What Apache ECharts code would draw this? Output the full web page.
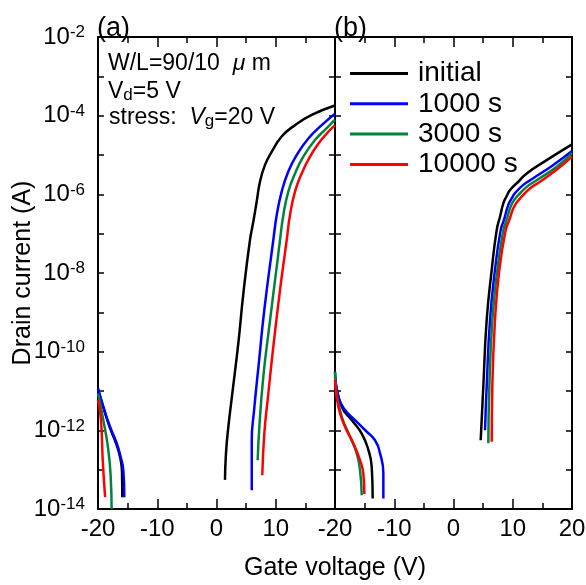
<!DOCTYPE html>
<html>
<head>
<meta charset="utf-8">
<script src="https://cdn.jsdelivr.net/npm/echarts@6/dist/echarts.min.js"></script>
<style>
  html, body { margin: 0; padding: 0; background: #fff; }
  #chart { width: 586px; height: 585px; }
</style>
</head>
<body>
<div id="chart"></div>
<script>
// Transfer curves before and after positive gate-bias stress.
// Each point: [gate voltage (V), drain current (A)].
const curveNames = ['initial', '1000 s', '3000 s', '10000 s'];

// Panel (a): off-state branches (negative gate voltage)
const aInitialOff = [[-20, 1.12e-11], [-19.1, 3.8e-12], [-18.0, 1.17e-12], [-16.9, 4.4e-13], [-16.25, 2.0e-13], [-15.95, 8.9e-14], [-15.9, 2.0e-14]];
const a1000Off    = [[-20, 1.17e-11], [-19.1, 4.0e-12], [-17.97, 1.23e-12], [-16.84, 4.7e-13], [-16.17, 2.1e-13], [-15.73, 9.8e-14], [-15.56, 2.0e-14]];
const a3000Off    = [[-20, 8.7e-12], [-19.1, 1.82e-12], [-18.26, 3.2e-13], [-17.86, 6.6e-14], [-17.7, 1.0e-14]];
const a10000Off   = [[-20, 6.0e-12], [-19.5, 1.82e-12], [-19.2, 1.74e-13], [-18.8, 2.0e-14]];

// Panel (a): on-state branches
const aInitialOn = [[1.43, 5.5e-14], [1.6, 2.6e-13], [2.0, 1.23e-12], [2.67, 8.7e-12], [3.68, 1.62e-10], [4.53, 3.0e-9], [5.65, 6.9e-8], [6.21, 2.0e-7], [6.78, 6.5e-7], [7.34, 2.1e-6], [8.19, 5.6e-6], [9.31, 1.2e-5], [11.0, 2.95e-5], [13.25, 5.75e-5], [16.07, 1.05e-4], [20, 1.82e-4]];
const a1000On    = [[5.95, 3.0e-14], [5.95, 5.6e-13], [6.35, 3.3e-12], [7.2, 6.2e-11], [8.07, 1.15e-9], [9.59, 6.9e-8], [10.16, 2.95e-7], [11.0, 1.17e-6], [12.12, 3.8e-6], [13.54, 1.0e-5], [15.5, 2.63e-5], [17.76, 5.75e-5], [20, 1.12e-4]];
const a3000On    = [[6.95, 1.74e-13], [7.23, 1.23e-12], [7.9, 2.3e-11], [8.9, 4.3e-10], [10.3, 2.1e-8], [10.72, 6.9e-8], [11.28, 2.95e-7], [12.12, 1.17e-6], [13.25, 3.4e-6], [14.65, 9.1e-6], [16.62, 2.4e-5], [18.6, 4.8e-5], [20, 7.9e-5]];
const a10000On   = [[7.73, 7.2e-14], [8.07, 8.3e-13], [8.75, 8.7e-12], [9.65, 1.62e-10], [10.75, 4.0e-9], [11.85, 6.9e-8], [12.4, 2.95e-7], [13.25, 1.17e-6], [14.38, 3.4e-6], [15.78, 9.1e-6], [17.47, 2.19e-5], [18.87, 3.9e-5], [20, 5.75e-5]];

// Panel (b): off-state branches
const bInitialOff = [[-20, 2.3e-11], [-18.87, 4.0e-12], [-17.18, 1.82e-12], [-15.49, 8.3e-13], [-14.37, 3.2e-13], [-13.8, 1.17e-13], [-13.64, 1.86e-14]];
const b1000Off    = [[-20, 3.1e-11], [-19.44, 7.1e-12], [-18.31, 3.3e-12], [-16.62, 1.82e-12], [-14.94, 1.02e-12], [-13.25, 5.6e-13], [-12.4, 2.6e-13], [-11.84, 8.1e-14], [-11.84, 1.86e-14]];
const b3000Off    = [[-20, 3.1e-11], [-19.72, 8.7e-12], [-18.87, 2.24e-12], [-17.47, 6.9e-13], [-16.34, 2.6e-13], [-15.78, 9.8e-14], [-15.49, 2.24e-14]];
const b10000Off   = [[-20, 1.91e-11], [-19.44, 4.0e-12], [-18.31, 1.23e-12], [-16.9, 4.7e-13], [-15.78, 1.74e-13], [-15.22, 8.1e-14], [-15.05, 2.4e-14]];

// Panel (b): on-state branches
const bInitialOn = [[4.59, 5.6e-13], [5.03, 1.29e-11], [5.6, 6.3e-10], [6.45, 1.2e-8], [7.29, 1.23e-7], [7.85, 2.69e-7], [8.41, 5.9e-7], [8.98, 9.1e-7], [9.54, 1.29e-6], [10.94, 2.09e-6], [12.36, 3.4e-6], [15.73, 7.4e-6], [20, 1.86e-5]];
const b1000On    = [[5.32, 1.0e-12], [5.6, 1.29e-11], [6.16, 6.3e-10], [7.0, 1.2e-8], [7.96, 1.23e-7], [8.52, 2.24e-7], [9.25, 5.4e-7], [9.82, 7.9e-7], [10.38, 1.07e-6], [11.78, 1.74e-6], [13.47, 2.57e-6], [16.85, 5.6e-6], [20, 1.26e-5]];
const b3000On    = [[5.88, 4.7e-13], [6.05, 1.29e-11], [6.55, 6.3e-10], [7.4, 1.2e-8], [8.41, 1.23e-7], [8.98, 2.24e-7], [9.65, 4.9e-7], [10.26, 7.2e-7], [10.94, 9.5e-7], [12.36, 1.55e-6], [14.04, 2.29e-6], [17.42, 5.0e-6], [20, 1.12e-5]];
const b10000On   = [[6.45, 5.1e-13], [6.55, 1.29e-11], [7.0, 6.3e-10], [7.73, 1.2e-8], [8.8, 1.23e-7], [9.43, 2.24e-7], [10.1, 4.4e-7], [10.77, 6.5e-7], [11.5, 8.7e-7], [12.9, 1.41e-6], [14.6, 2.09e-6], [17.7, 4.6e-6], [20, 9.1e-6]];

const panelCurves = [
  [[aInitialOff, aInitialOn], [a1000Off, a1000On], [a3000Off, a3000On], [a10000Off, a10000On]],
  [[bInitialOff, bInitialOn], [b1000Off, b1000On], [b3000Off, b3000On], [b10000Off, b10000On]]
];

const curveColors = ['#000000', '#0000ff', '#00843d', '#ff0000'];
const FONT = "'Liberation Sans', Arial, Helvetica, sans-serif";

const chart = echarts.init(document.getElementById('chart'), null, { renderer: 'canvas' });

function xAxisFor(gridIndex, position, showLabels, showMaxLabel) {
  return {
    type: 'value', gridIndex, position,
    min: -20, max: 20, interval: 10,
    axisLine: { show: true, onZero: false, lineStyle: { color: '#000', width: 2 } },
    axisTick: { show: true, inside: true, length: 10, lineStyle: { color: '#000', width: 1.5 } },
    minorTick: { show: true, splitNumber: 2, length: 6, lineStyle: { color: '#000', width: 1.5 } },
    splitLine: { show: false }, minorSplitLine: { show: false },
    axisLabel: {
      show: showLabels, showMinLabel: true, showMaxLabel: showMaxLabel,
      margin: 8, color: '#000', fontSize: 24, fontFamily: FONT
    }
  };
}

function yAxisFor(gridIndex, position, showLabels) {
  return {
    type: 'log', logBase: 10, gridIndex, position,
    min: 1e-14, max: 1e-2, interval: 1,
    axisLine: { show: true, onZero: false, lineStyle: { color: '#000', width: 2 } },
    axisTick: { show: true, inside: true, length: 6, lineStyle: { color: '#000', width: 1.5 } },
    splitLine: { show: false },
    axisLabel: {
      show: showLabels, margin: 13, color: '#000', fontFamily: FONT,
      formatter: function (v) {
        const e = Math.round(Math.log10(v));
        if (e % 2 !== 0) return '';
        return '{b|10}{s|' + e + '}';
      },
      rich: {
        b: { fontSize: 24, lineHeight: 26, fontFamily: FONT, color: '#000' },
        s: { fontSize: 17, lineHeight: 16, verticalAlign: 'top', fontFamily: FONT, color: '#000' }
      }
    }
  };
}

const series = [];
panelCurves.forEach(function (curves, p) {
  curves.forEach(function (branches, i) {
    branches.forEach(function (data) {
      series.push({
        type: 'line', name: curveNames[i],
        xAxisIndex: p * 2, yAxisIndex: p * 2,
        data: data, showSymbol: false, symbol: 'none',
        smooth: 0.5, clip: true,
        lineStyle: { color: curveColors[i], width: 2.5 },
        itemStyle: { color: curveColors[i] },
        emphasis: { disabled: true },
        animation: false
      });
    });
  });
});

const rich = {
  n: { fontSize: 23, lineHeight: 24, fontFamily: FONT, color: '#000' },
  i: { fontSize: 23, lineHeight: 24, fontFamily: FONT, fontStyle: 'italic', color: '#000' },
  sub: { fontSize: 17, lineHeight: 17, verticalAlign: 'bottom', fontFamily: FONT, color: '#000' }
};

chart.setOption({
  animation: false,
  backgroundColor: '#fff',
  grid: [
    { left: 98, top: 37, width: 237, height: 472, containLabel: false, outerBoundsMode: 'none' },
    { left: 335, top: 37, width: 237, height: 472, containLabel: false, outerBoundsMode: 'none' }
  ],
  xAxis: [
    xAxisFor(0, 'bottom', true, false),
    xAxisFor(0, 'top', false, false),
    xAxisFor(1, 'bottom', true, true),
    xAxisFor(1, 'top', false, false)
  ],
  yAxis: [
    yAxisFor(0, 'left', true),
    yAxisFor(0, 'right', false),
    yAxisFor(1, 'left', false),
    yAxisFor(1, 'right', false)
  ],
  legend: {
    data: curveNames.map(function (n, i) { return { name: n, icon: 'rect', itemStyle: { color: curveColors[i] } }; }),
    orient: 'vertical', left: 350, top: 59.5, padding: 0,
    itemWidth: 58, itemHeight: 3, itemGap: 2.3,
    selectedMode: false,
    textStyle: { fontSize: 28, lineHeight: 28, fontFamily: FONT, color: '#000', padding: [0, 0, 0, 5] }
  },
  graphic: [
    { type: 'text', x: 97, y: 29, style: { text: '(a)', fontSize: 27, fontFamily: FONT, fill: '#000', align: 'left', verticalAlign: 'middle' } },
    { type: 'text', x: 334, y: 29, style: { text: '(b)', fontSize: 27, fontFamily: FONT, fill: '#000', align: 'left', verticalAlign: 'middle' } },
    { type: 'text', x: 108, y: 64, style: { text: '{n|W/L=90/10  }{i|μ}{n| m}', rich: rich, align: 'left', verticalAlign: 'middle' } },
    { type: 'text', x: 108, y: 92, style: { text: '{n|V}{sub|d}{n|=5 V}', rich: rich, align: 'left', verticalAlign: 'middle' } },
    { type: 'text', x: 109, y: 118, style: { text: '{n|stress:  }{i|V}{sub|g}{n|=20 V}', rich: rich, align: 'left', verticalAlign: 'middle' } },
    { type: 'text', x: 335, y: 568, style: { text: 'Gate voltage (V)', fontSize: 25, fontFamily: FONT, fill: '#000', align: 'center', verticalAlign: 'middle' } },
    { type: 'text', x: 23, y: 273, rotation: Math.PI / 2, style: { text: 'Drain current (A)', fontSize: 25, fontFamily: FONT, fill: '#000', align: 'center', verticalAlign: 'middle' } }
  ],
  series: series
});
</script>
</body>
</html>
